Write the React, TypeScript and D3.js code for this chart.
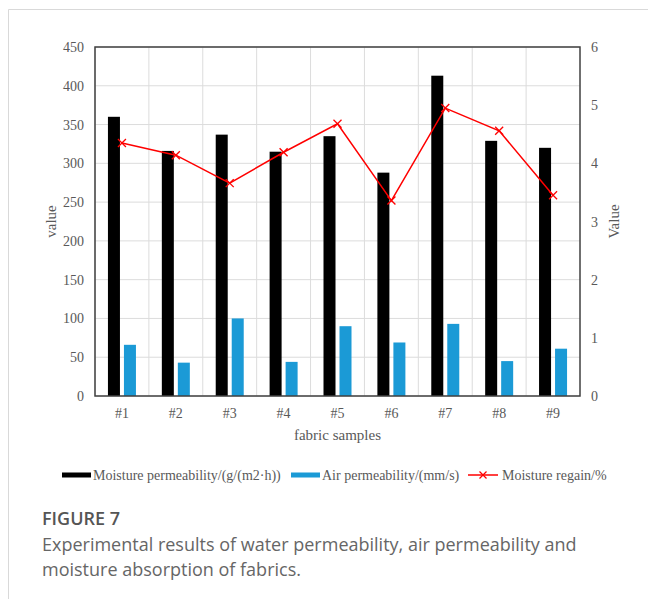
import React from "react";
import * as d3 from "d3";

const categories = ["#1", "#2", "#3", "#4", "#5", "#6", "#7", "#8", "#9"];
const moisturePermeability = [360, 316, 337, 315, 335, 288, 413, 329, 320];
const airPermeability = [66, 43, 100, 44, 90, 69, 93, 45, 61];
const moistureRegain = [4.35, 4.14, 3.66, 4.19, 4.68, 3.36, 4.95, 4.56, 3.45];
const leftTicks = [0, 50, 100, 150, 200, 250, 300, 350, 400, 450];
const rightTicks = [0, 1, 2, 3, 4, 5, 6];

const W = 648;
const H = 599;
const plot = { left: 95, right: 580, top: 47, bottom: 396 };
const serif = "'Liberation Serif', 'Times New Roman', serif";
const sans = "'Open Sans', 'Noto Sans', sans-serif";
const textGray = "#595959";
const blue = "#1b9ad6";

export default function App() {
  const x = d3.scaleBand<string>().domain(categories).range([plot.left, plot.right]).paddingInner(0).paddingOuter(0);
  const yL = d3.scaleLinear().domain([0, 450]).range([plot.bottom, plot.top]);
  const yR = d3.scaleLinear().domain([0, 6]).range([plot.bottom, plot.top]);
  const cx = (c: string) => (x(c) as number) + x.bandwidth() / 2;
  const barW = 12;

  const line = d3
    .line<number>()
    .x((_, i) => cx(categories[i]))
    .y((d) => yR(d));

  const xMark = (px: number, py: number, s: number, key: string) => (
    <g key={key} stroke="#ff0000" strokeWidth={1.3}>
      <line x1={px - s} y1={py - s} x2={px + s} y2={py + s} />
      <line x1={px - s} y1={py + s} x2={px + s} y2={py - s} />
    </g>
  );

  const legendY = 475;

  return (
    <svg
      width={W}
      height={H}
      style={{ position: "absolute", left: 0, top: 0, background: "#fff" }}
    >
      {/* card border */}
      <line x1={8.5} y1={9.5} x2={W} y2={9.5} stroke="#d9d9d9" strokeWidth={1} />
      <line x1={8.5} y1={9.5} x2={8.5} y2={H} stroke="#d9d9d9" strokeWidth={1} />

      {/* horizontal gridlines */}
      {leftTicks.map((t) => (
        <line key={"hg" + t} x1={plot.left} x2={plot.right} y1={yL(t)} y2={yL(t)} stroke="#dcdcdc" strokeWidth={1} />
      ))}
      {/* vertical gridlines */}
      {categories.map((c) => (
        <line key={"vg" + c} x1={x(c) as number} x2={x(c) as number} y1={plot.top} y2={plot.bottom} stroke="#dcdcdc" strokeWidth={1} />
      ))}

      {/* bars */}
      {categories.map((c, i) => (
        <rect key={"mb" + c} x={cx(c) - barW - 2} y={yL(moisturePermeability[i])} width={barW} height={plot.bottom - yL(moisturePermeability[i])} fill="#000" />
      ))}
      {categories.map((c, i) => (
        <rect key={"ab" + c} x={cx(c) + 2} y={yL(airPermeability[i])} width={barW} height={plot.bottom - yL(airPermeability[i])} fill={blue} />
      ))}

      {/* plot border */}
      <rect x={plot.left} y={plot.top} width={plot.right - plot.left} height={plot.bottom - plot.top} fill="none" stroke="#404040" strokeWidth={1.5} />

      {/* line */}
      <path d={line(moistureRegain) || ""} fill="none" stroke="#ff0000" strokeWidth={1.5} />
      {moistureRegain.map((v, i) => xMark(cx(categories[i]), yR(v), 4, "xm" + i))}

      {/* left ticks */}
      {leftTicks.map((t) => (
        <text key={"lt" + t} x={84} y={yL(t) + 5} textAnchor="end" fontFamily={serif} fontSize={14} fill={textGray}>
          {t}
        </text>
      ))}
      {/* right ticks */}
      {rightTicks.map((t) => (
        <text key={"rt" + t} x={591} y={yR(t) + 5} textAnchor="start" fontFamily={serif} fontSize={14} fill={textGray}>
          {t}
        </text>
      ))}
      {/* x labels */}
      {categories.map((c) => (
        <text key={"xl" + c} x={cx(c)} y={418} textAnchor="middle" fontFamily={serif} fontSize={14} fill={textGray}>
          {c}
        </text>
      ))}
      <text x={(plot.left + plot.right) / 2} y={440} textAnchor="middle" fontFamily={serif} fontSize={15} fill={textGray}>
        fabric samples
      </text>
      <text transform={`translate(56, ${(plot.top + plot.bottom) / 2}) rotate(-90)`} textAnchor="middle" fontFamily={serif} fontSize={15} fill={textGray}>
        value
      </text>
      <text transform={`translate(619, ${(plot.top + plot.bottom) / 2}) rotate(-90)`} textAnchor="middle" fontFamily={serif} fontSize={15} fill={textGray}>
        Value
      </text>

      {/* legend */}
      <rect x={62} y={legendY - 2.5} width={29} height={5} fill="#000" />
      <text x={93} y={legendY + 4.5} fontFamily={serif} fontSize={14} fill={textGray}>
        Moisture permeability/(g/(m2·h))
      </text>
      <rect x={291} y={legendY - 2.5} width={29} height={5} fill={blue} />
      <text x={322} y={legendY + 4.5} fontFamily={serif} fontSize={14} fill={textGray}>
        Air permeability/(mm/s)
      </text>
      <line x1={468} x2={498} y1={legendY} y2={legendY} stroke="#ff0000" strokeWidth={1.5} />
      {xMark(483, legendY, 3.5, "legx")}
      <text x={502} y={legendY + 4.5} fontFamily={serif} fontSize={14} fill={textGray}>
        Moisture regain/%
      </text>

      {/* caption */}
      <text x={42} y={525} fontFamily={sans} fontSize={18} fontWeight={600} fill="#555">
        FIGURE 7
      </text>
      <text x={42} y={551} fontFamily={sans} fontSize={18} fill="#666">
        Experimental results of water permeability, air permeability and
      </text>
      <text x={42} y={576} fontFamily={sans} fontSize={18} fill="#666">
        moisture absorption of fabrics.
      </text>
    </svg>
  );
}
